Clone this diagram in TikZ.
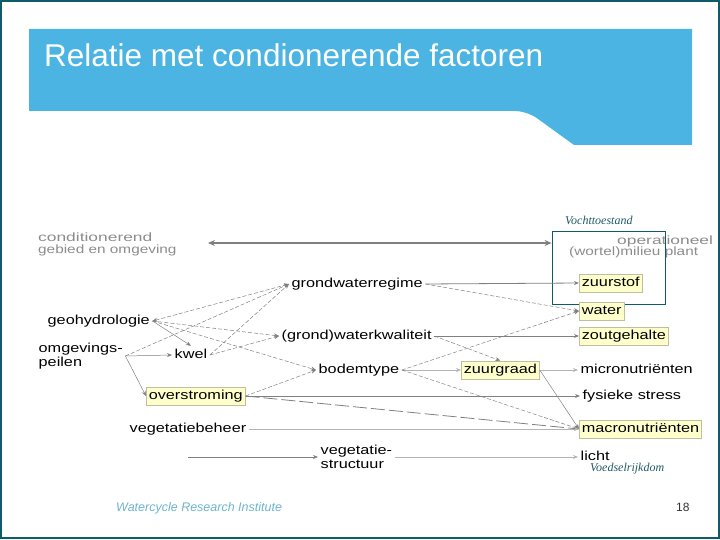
\documentclass[tikz,border=0pt]{standalone}
\usepackage{fontspec}
\setmainfont{Liberation Sans}
\newfontfamily\lblfam[FakeStretch=1.25]{Liberation Sans}
\newfontfamily\hdfam[FakeStretch=1.45]{Liberation Sans}
\newfontfamily\subfam[FakeStretch=1.28]{Liberation Sans}
\newfontfamily\notefam{Liberation Serif}
\usetikzlibrary{positioning,arrows.meta}

\definecolor{titleblue}{RGB}{76,180,226}
\definecolor{frameteal}{RGB}{14,92,107}
\definecolor{noteteal}{RGB}{30,90,100}
\definecolor{hlyellow}{RGB}{255,255,204}
\definecolor{hlborder}{RGB}{190,190,160}
\definecolor{linegray}{RGB}{128,128,128}
\definecolor{palegray}{RGB}{180,180,180}
\definecolor{headgray}{RGB}{140,140,140}
\definecolor{footblue}{RGB}{110,180,205}

\begin{document}
\begin{tikzpicture}[
    x=1bp, y=-1bp,
    factor/.style={font=\lblfam\fontsize{13bp}{15bp}\selectfont, inner sep=2.5bp, text height=10bp, text depth=3bp, anchor=west},
    factor2/.style={font=\lblfam\fontsize{13bp}{13.5bp}\selectfont, inner sep=2.5bp, align=left, anchor=west},
    hl/.style={factor, fill=hlyellow, draw=hlborder, line width=0.6bp},
    head/.style={font=\hdfam\fontsize{12bp}{14bp}\selectfont, text=headgray, inner sep=0pt, anchor=base west},
    subhead/.style={font=\subfam\fontsize{12bp}{14bp}\selectfont, text=headgray, inner sep=0pt, anchor=base west},
    note/.style={font=\notefam\itshape\fontsize{12bp}{14bp}\selectfont, text=noteteal, inner sep=0pt, anchor=base west},
    arrow/.style={-{Stealth[length=5bp,width=4bp]}, draw=linegray, line width=0.8bp},
    thinarrow/.style={arrow, line width=0.5bp},
    palearrow/.style={arrow, draw=palegray, line width=0.7bp},
    dasharrow/.style={arrow, line width=0.5bp, dash pattern=on 4bp off 2bp},
    longdash/.style={arrow, line width=0.8bp, dash pattern=on 14bp off 4bp},
    bigarrow/.style={{Stealth[length=7bp,width=6bp]}-{Stealth[length=7bp,width=6bp]}, draw=linegray, line width=2.5bp}
]
\useasboundingbox (0,0) rectangle (720,540);
% slide frame and title bar
\draw[frameteal, line width=2bp] (1,1) rectangle (719,538);
\fill[titleblue] (29,29) -- (692,29) -- (692,145) -- (574,145)
    [rounded corners=12bp] -- (527,111) [sharp corners] -- (29,111) -- cycle;
\node[anchor=base west, inner sep=0pt, text=white, font=\fontsize{31.5bp}{34bp}\selectfont] (title) at (44,67) {Relatie met condionerende factoren};

% headers
\node[head] (cond) at (38,242) {conditionerend};
\node[subhead] (gebied) at (38,254) {gebied en omgeving};
\node[head] (oper) at (617,245) {operationeel};
\node[subhead] (wortel) at (569,256) {(wortel)milieu plant};
\node[draw=frameteal, line width=0.8bp, inner sep=0pt, minimum width=113bp, minimum height=73bp] (vocht) at (608.5,267.5) {};
\node[note] (vochtlbl) at (565,225) {Vochttoestand};
\coordinate (condend) at (208,243);
\draw[bigarrow] (condend) -- (vocht.west |- condend);

% left column
\node[factor] (geo) at (45,321) {geohydrologie};
\node[factor2] (omg) at (36,356) {omgevings-\\peilen};
\node[factor] (kwel) at (172,355) {kwel};
\node[hl] (ovr) at (146,396) {overstroming};
\node[factor] (vbeh) at (127,429) {vegetatiebeheer};
\node[factor2] (vstr) at (318,457) {vegetatie-\\structuur};
\coordinate (vegstart) at (188,457);

% middle column
\node[factor] (gwr) at (289,284) {grondwaterregime};
\node[factor] (wkw) at (279,336) {(grond)waterkwaliteit};
\node[factor] (bodem) at (316,370) {bodemtype};
\node[hl] (zuurgr) at (461,370) {zuurgraad};

% right column
\node[hl] (zuurstof) at (579,283) {zuurstof};
\node[hl] (water) at (579,311) {water};
\node[hl] (zout) at (579,336) {zoutgehalte};
\node[factor] (micro) at (578,370) {micronutriënten};
\node[factor] (fys) at (580,396) {fysieke stress};
\node[hl] (macro) at (579,429) {macronutriënten};
\node[factor] (licht) at (578,457) {licht};
\node[note] (voedsel) at (590,471) {Voedselrijkdom};

% footer
\node[anchor=base west, inner sep=0pt, text=footblue, font=\itshape\fontsize{12.5bp}{14bp}\selectfont] (inst) at (116,511) {Watercycle Research Institute};
\node[anchor=base west, inner sep=0pt, text=black!80, font=\fontsize{12bp}{14bp}\selectfont] (page) at (676,511) {18};

% connectors
\draw[thinarrow] (omg.east) -- (kwel.west);
\draw[thinarrow] (omg.east) -- (ovr.west);
\draw[dasharrow] (omg.east) -- (gwr.west);
\draw[dasharrow, {Stealth[length=5bp,width=4bp]}-{Stealth[length=5bp,width=4bp]}] (geo.east) -- (gwr.west);
\draw[thinarrow] (geo.east) -- (kwel.north);
\draw[dasharrow] (geo.east) -- (wkw.west);
\draw[dasharrow] (geo.east) -- (bodem.west);
\draw[dasharrow] (kwel.east) -- (gwr.west);
\draw[dasharrow] (kwel.east) -- (wkw.west);
\draw[dasharrow] (ovr.east) -- (bodem.west);
\draw[arrow] (gwr.east) -- (zuurstof.west);
\draw[dasharrow] (gwr.east) -- (water.west);
\draw[arrow] (wkw.east) -- (zout.west);
\draw[dasharrow] (wkw.east) -- (zuurgr.north);
\draw[dasharrow] (bodem.east) -- (water.west);
\draw[palearrow] (bodem.east) -- (zuurgr.west);
\draw[dasharrow] (bodem.east) -- (macro.west);
\draw[palearrow] (zuurgr.east) -- (micro.west);
\draw[thinarrow] (zuurgr.east) -- (macro.west);
\draw[arrow] (ovr.east) -- (fys.west);
\draw[longdash] (ovr.east) -- (macro.west);
\draw[palearrow] (vbeh.east) -- (macro.west);
\draw[arrow] (vegstart) -- (vstr.west);
\draw[palearrow] (vstr.east) -- (licht.west);
\end{tikzpicture}
\end{document}
